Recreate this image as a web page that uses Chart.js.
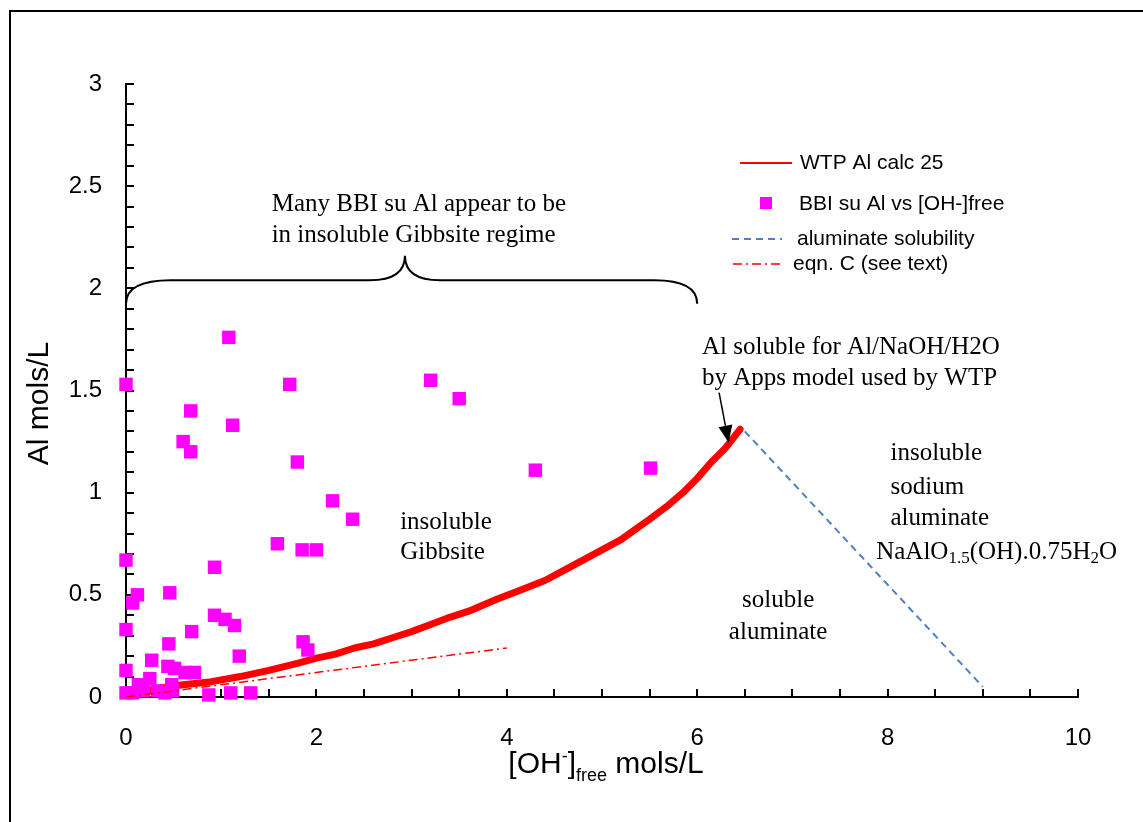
<!DOCTYPE html>
<html><head><meta charset="utf-8">
<script src="https://cdn.jsdelivr.net/npm/chart.js@4"></script>
<style>html,body{margin:0;padding:0;background:#fff}#wrap{width:1143px;height:822px;position:relative}</style>
</head><body><div id="wrap"><canvas id="c" width="1143" height="822"></canvas></div>
<script>
// ---- data ----
const wtpX = [0.25, 0.45, 0.6, 0.9, 1.2, 1.5, 1.8, 2.0, 2.2, 2.4, 2.6, 2.8, 3.0, 3.2, 3.4, 3.6, 3.9, 4.1, 4.4, 4.6, 4.8, 5.0, 5.2, 5.35, 5.5, 5.7, 5.85, 6.0, 6.15, 6.3, 6.45];
const wtpY = [0.035, 0.05, 0.06, 0.075, 0.10, 0.13, 0.165, 0.19, 0.21, 0.24, 0.26, 0.29, 0.32, 0.355, 0.39, 0.42, 0.48, 0.515, 0.57, 0.62, 0.67, 0.72, 0.77, 0.82, 0.87, 0.94, 1.00, 1.07, 1.15, 1.22, 1.31];
const bbiX = [0, 1.08, 0.68, 0.60, 0.68, 1.12, 1.72, 1.80, 3.20, 3.50, 4.30, 5.51, 2.17, 2.38, 1.59, 1.85, 2.00, 0, 0.93, 0.46, 0.12, 0.07, 0, 0.69, 0.93, 1.04, 1.14, 0.45, 1.19, 1.86, 1.91, 0, 0.27, 0.44, 0.51, 0.62, 0.72, 0.25, 0.13, 0.48, 0, 0.07, 0.18, 0.33, 0.41, 0.49, 0.87, 1.10, 1.31];
const bbiY = [1.53, 1.76, 1.40, 1.25, 1.20, 1.33, 1.53, 1.15, 1.55, 1.46, 1.11, 1.12, 0.96, 0.87, 0.75, 0.72, 0.72, 0.67, 0.635, 0.51, 0.50, 0.46, 0.33, 0.32, 0.40, 0.38, 0.35, 0.26, 0.20, 0.27, 0.23, 0.13, 0.18, 0.15, 0.14, 0.12, 0.12, 0.09, 0.06, 0.06, 0.02, 0.02, 0.03, 0.03, 0.02, 0.03, 0.01, 0.02, 0.02];
const alumX = [6.5, 9.0];
const alumY = [1.3, 0.05];
const eqnX = [0, 4.0];
const eqnY = [0, 0.24];
const xTickLabels = ['0', '2', '4', '6', '8', '10'];
const yTickLabels = ['0', '0.5', '1', '1.5', '2', '2.5', '3'];
const seriesNames = ['WTP Al calc 25', 'BBI su Al vs [OH-]free', 'aluminate solubility', 'eqn. C (see text)'];

const sansFont = "'Liberation Sans', Arial, sans-serif";
const serifFont = "'Liberation Serif', 'Times New Roman', serif";
Chart.defaults.font.family = sansFont;
Chart.defaults.color = '#000';

const pts = (xs, ys) => xs.map((x, i) => ({x: x, y: ys[i]}));
function labelFor(v, list) {
  const s = String(Math.round(v * 100) / 100);
  return list.indexOf(s) >= 0 ? s : '';
}

const decor = {
  id: 'decor',
  beforeDraw(chart) {
    const ctx = chart.ctx;
    ctx.save();
    ctx.fillStyle = '#fff';
    ctx.fillRect(0, 0, chart.width, chart.height);
    ctx.strokeStyle = '#000';
    ctx.lineWidth = 2;
    ctx.beginPath();
    ctx.moveTo(10, 822); ctx.lineTo(10, 11); ctx.lineTo(1143, 11);
    ctx.stroke();
    ctx.restore();
  },
  afterDraw(chart) {
    const ctx = chart.ctx;
    const xs = chart.scales.x, ys = chart.scales.y;
    const X = v => xs.getPixelForValue(v), Y = v => ys.getPixelForValue(v);
    const ca = chart.chartArea;
    ctx.save();
    ctx.fillStyle = '#000';
    ctx.strokeStyle = '#000';

    // axis titles
    ctx.font = '30px ' + sansFont;
    ctx.textBaseline = 'middle';
    ctx.textAlign = 'center';
    ctx.save();
    ctx.translate(40, (ca.top + ca.bottom) / 2 + 13);
    ctx.rotate(-Math.PI / 2);
    ctx.fillText('Al mols/L', 0, 0);
    ctx.restore();

    const xt = [['[OH', 30, 0], ['-', 18, -11], [']', 30, 0], ['free', 18, 8], [' mols/L', 30, 0]];
    ctx.textAlign = 'left';
    ctx.textBaseline = 'alphabetic';
    let tw = 0;
    xt.forEach(p => { ctx.font = p[1] + 'px ' + sansFont; tw += ctx.measureText(p[0]).width; });
    let cx = (ca.left + ca.right) / 2 + 4 - tw / 2;
    xt.forEach(p => { ctx.font = p[1] + 'px ' + sansFont; ctx.fillText(p[0], cx, 773 + p[2]); cx += ctx.measureText(p[0]).width; });

    // legend
    ctx.font = '21px ' + sansFont;
    ctx.textBaseline = 'middle';
    ctx.textAlign = 'left';
    ctx.lineWidth = 2;
    ctx.strokeStyle = '#ff0000';
    ctx.beginPath(); ctx.moveTo(740, 163); ctx.lineTo(792, 163); ctx.stroke();
    ctx.fillText(seriesNames[0], 800, 163);
    ctx.fillStyle = '#ff00ff';
    ctx.fillRect(760, 197, 12, 12);
    ctx.fillStyle = '#000';
    ctx.fillText(seriesNames[1], 799, 204);
    ctx.strokeStyle = '#4f81bd';
    ctx.setLineDash([7, 5]);
    ctx.beginPath(); ctx.moveTo(732, 239); ctx.lineTo(782, 239); ctx.stroke();
    ctx.fillText(seriesNames[2], 797, 239);
    ctx.strokeStyle = '#ff0000';
    ctx.lineWidth = 1.5;
    ctx.setLineDash([9, 4, 2, 4]);
    ctx.beginPath(); ctx.moveTo(733, 264); ctx.lineTo(784, 264); ctx.stroke();
    ctx.setLineDash([]);
    ctx.fillText(seriesNames[3], 793, 264);

    // brace
    ctx.strokeStyle = '#000';
    ctx.lineWidth = 2;
    const ye = Y(1.925), ym = Y(2.04), yp = Y(2.16);
    ctx.beginPath();
    ctx.moveTo(X(0), ye);
    ctx.quadraticCurveTo(X(0), ym, X(0.47), ym);
    ctx.lineTo(X(2.56), ym);
    ctx.quadraticCurveTo(X(2.93), ym, X(2.93), yp);
    ctx.quadraticCurveTo(X(2.93), ym, X(3.30), ym);
    ctx.lineTo(X(5.55), ym);
    ctx.quadraticCurveTo(X(6.0), ym, X(6.0), ye);
    ctx.stroke();

    // arrow
    const ax1 = X(6.23), ay1 = Y(1.49), ax2 = X(6.33), ay2 = Y(1.245);
    const ang = Math.atan2(ay2 - ay1, ax2 - ax1);
    const hl = 17, hw = 7;
    const bx = ax2 - hl * Math.cos(ang), by = ay2 - hl * Math.sin(ang);
    ctx.lineWidth = 1.5;
    ctx.beginPath(); ctx.moveTo(ax1, ay1); ctx.lineTo(bx, by); ctx.stroke();
    ctx.beginPath();
    ctx.moveTo(ax2, ay2);
    ctx.lineTo(bx + hw * Math.sin(ang), by - hw * Math.cos(ang));
    ctx.lineTo(bx - hw * Math.sin(ang), by + hw * Math.cos(ang));
    ctx.closePath(); ctx.fill();

    // annotations
    ctx.font = '25px ' + serifFont;
    ctx.textBaseline = 'middle';
    ctx.textAlign = 'left';
    ctx.fillText('Many BBI su Al appear to be', X(1.53), Y(2.41));
    ctx.fillText('in insoluble Gibbsite regime', X(1.53), Y(2.257));
    ctx.fillText('Al soluble for Al/NaOH/H2O', X(6.05), Y(1.71));
    ctx.fillText('by Apps model used by WTP', X(6.05), Y(1.56));
    ctx.fillText('insoluble', X(2.88), Y(0.855));
    ctx.fillText('Gibbsite', X(2.88), Y(0.708));
    ctx.fillText('insoluble', X(8.03), Y(1.19));
    ctx.fillText('sodium', X(8.03), Y(1.026));
    ctx.fillText('aluminate', X(8.03), Y(0.874));
    ctx.textAlign = 'center';
    ctx.fillText('soluble', X(6.85), Y(0.474));
    ctx.fillText('aluminate', X(6.85), Y(0.318));
    ctx.textAlign = 'left';
    const fm = [['NaAlO', 25, 0], ['1.5', 17, 6], ['(OH).0.75H', 25, 0], ['2', 17, 6], ['O', 25, 0]];
    let fx = X(7.88);
    const fy = Y(0.708);
    fm.forEach(p => { ctx.font = p[1] + 'px ' + serifFont; ctx.fillText(p[0], fx, fy + p[2]); fx += ctx.measureText(p[0]).width; });
    ctx.restore();
  }
};

const axisCommon = {
  type: 'linear',
  grid: { drawOnChartArea: false, drawTicks: true, tickLength: -8, color: '#000', lineWidth: 2 },
  border: { display: true, color: '#000', width: 2 }
};

new Chart(document.getElementById('c'), {
  type: 'scatter',
  data: { datasets: [
    { label: seriesNames[3], data: pts(eqnX, eqnY), showLine: true, borderColor: '#ff0000', borderWidth: 1.5, borderDash: [9, 4, 2, 4], pointRadius: 0, order: 0 },
    { label: seriesNames[1], data: pts(bbiX, bbiY), pointStyle: 'rect', pointRadius: 9.5, backgroundColor: '#ff00ff', borderWidth: 0, order: 1, clip: false },
    { label: seriesNames[0], data: pts(wtpX, wtpY), showLine: true, borderColor: '#ff0000', borderWidth: 7, borderCapStyle: 'round', borderJoinStyle: 'round', pointRadius: 0, order: 2 },
    { label: seriesNames[2], data: pts(alumX, alumY), showLine: true, borderColor: '#4f81bd', borderWidth: 2, borderDash: [7, 5], pointRadius: 0, order: 3 }
  ]},
  options: {
    responsive: false, animation: false, devicePixelRatio: 1,
    events: [],
    layout: { padding: { left: 0, top: 84, right: 65, bottom: 0 } },
    plugins: { legend: { display: false }, tooltip: { enabled: false } },
    scales: {
      x: Object.assign({}, axisCommon, {
        min: 0, max: 10,
        ticks: { stepSize: 0.5, autoSkip: false, maxRotation: 0, padding: 35, color: '#000', font: { size: 24 }, callback: v => labelFor(v, xTickLabels) },
        afterFit: s => { s.height = 125; }
      }),
      y: Object.assign({}, axisCommon, {
        min: 0, max: 3,
        ticks: { stepSize: 0.1, autoSkip: false, padding: 32, color: '#000', font: { size: 24 }, callback: v => labelFor(v, yTickLabels) },
        afterFit: s => { s.width = 126; }
      })
    }
  },
  plugins: [decor]
});
</script>
</body></html>
